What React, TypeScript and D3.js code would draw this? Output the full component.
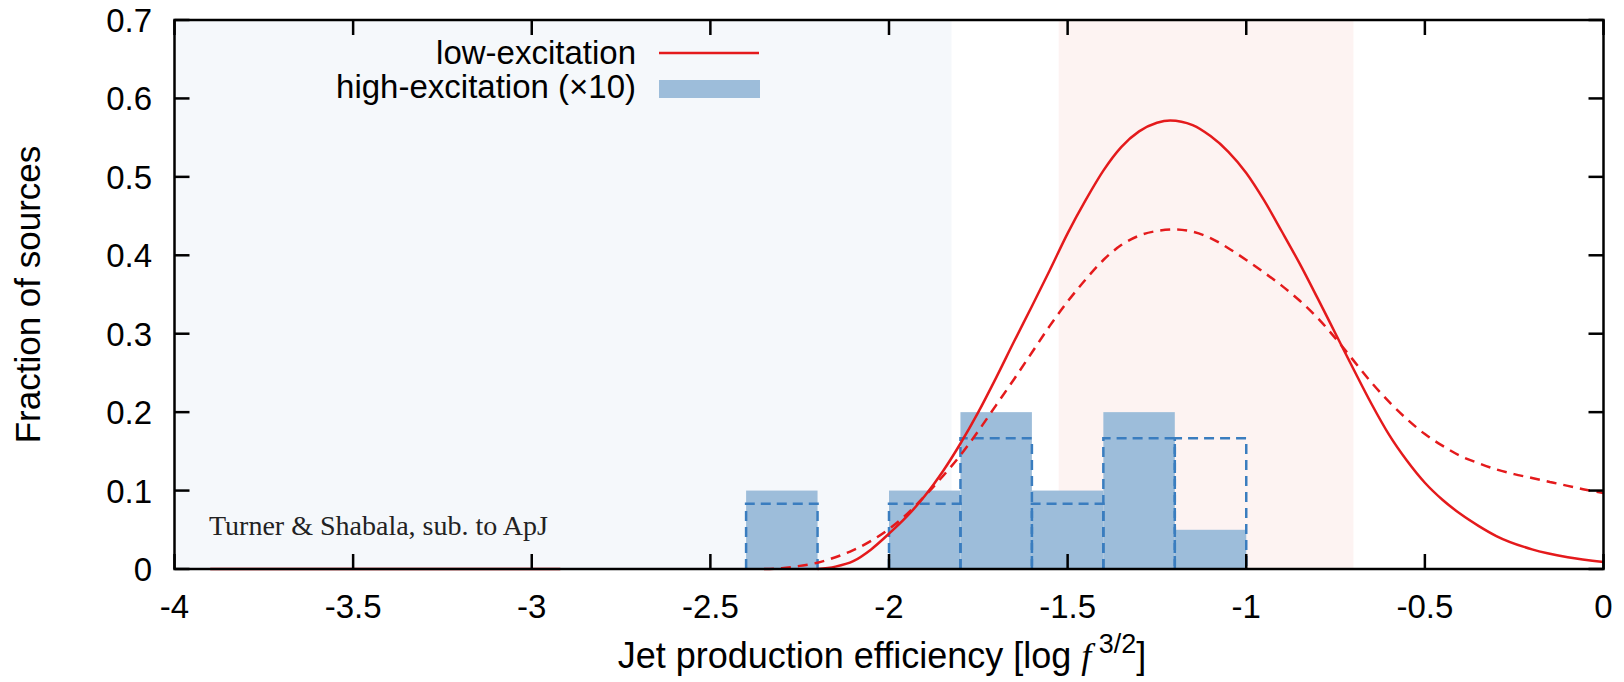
import React from "react";
import * as d3 from "d3";

const W = 1624;
const H = 682;
const M = { left: 174.5, right: 1603.5, top: 20, bottom: 569 };

const xTicks = [-4, -3.5, -3, -2.5, -2, -1.5, -1, -0.5, 0];
const yTicks = [0, 0.1, 0.2, 0.3, 0.4, 0.5, 0.6, 0.7];

// shaded regions
const blueRegion = [-4, -1.825];
const pinkRegion = [-1.525, -0.7];

// histogram (high-excitation x10)
const binEdges = [-2.4, -2.2, -2.0, -1.8, -1.6, -1.4, -1.2, -1.0];
const histSolid = [0.1, 0, 0.1, 0.2, 0.1, 0.2, 0.05];
const histDashed = [0.0833, 0, 0.0833, 0.1667, 0.0833, 0.1667, 0.1667];

// low-excitation curves
const lowX = [-2.2, -2.15, -2.1, -2.05, -2.0, -1.95, -1.9, -1.85, -1.8, -1.75, -1.7, -1.65, -1.6, -1.55, -1.5, -1.45, -1.4, -1.35, -1.3, -1.25, -1.213, -1.15, -1.1, -1.05, -1.0, -0.95, -0.9, -0.85, -0.8, -0.75, -0.7, -0.65, -0.6, -0.55, -0.5, -0.45, -0.4, -0.35, -0.3, -0.2, -0.1, 0];
const lowY = [0, 0.003, 0.01, 0.025, 0.045, 0.067, 0.093, 0.124, 0.16, 0.2, 0.244, 0.29, 0.335, 0.381, 0.428, 0.47, 0.508, 0.538, 0.558, 0.569, 0.572, 0.566, 0.552, 0.532, 0.505, 0.47, 0.43, 0.389, 0.345, 0.3, 0.255, 0.211, 0.171, 0.138, 0.11, 0.088, 0.07, 0.055, 0.042, 0.025, 0.015, 0.009];
const lowDashX = [-2.35, -2.3, -2.25, -2.2, -2.15, -2.1, -2.05, -2.0, -1.95, -1.9, -1.85, -1.8, -1.75, -1.7, -1.65, -1.6, -1.55, -1.5, -1.45, -1.4, -1.35, -1.3, -1.25, -1.2, -1.15, -1.1, -1.05, -1.0, -0.95, -0.9, -0.85, -0.8, -0.75, -0.7, -0.65, -0.6, -0.55, -0.5, -0.45, -0.4, -0.35, -0.3, -0.25, -0.2, -0.15, -0.1, -0.05, 0];
const lowDashY = [0, 0.001, 0.004, 0.008, 0.015, 0.024, 0.036, 0.051, 0.07, 0.093, 0.118, 0.145, 0.176, 0.209, 0.242, 0.276, 0.31, 0.341, 0.369, 0.394, 0.413, 0.425, 0.431, 0.433, 0.43, 0.422, 0.409, 0.394, 0.378, 0.361, 0.342, 0.32, 0.294, 0.266, 0.238, 0.213, 0.191, 0.172, 0.157, 0.144, 0.135, 0.127, 0.121, 0.116, 0.111, 0.106, 0.101, 0.097];
const tailX = [-3.9, -2.92];
const tailY = [0, 0];

const RED = "#e41a1c";
const BLUE_FILL = "#9dbdda";
const BLUE_LINE = "#3a7dbf";
const SANS = "'Liberation Sans', Arial, Helvetica, sans-serif";
const SERIF = "'Liberation Serif', 'Times New Roman', serif";

export default function App() {
  const x = d3.scaleLinear().domain([-4, 0]).range([M.left, M.right]);
  const y = d3.scaleLinear().domain([0, 0.7]).range([M.bottom, M.top]);
  const line = d3
    .line<[number, number]>()
    .x((d) => x(d[0]))
    .y((d) => y(d[1]))
    .curve(d3.curveMonotoneX);
  const zip = (a: number[], b: number[]) => a.map((v, i) => [v, b[i]] as [number, number]);
  const tick = 15;

  return (
    <svg width={W} height={H} style={{ position: "absolute", left: 0, top: 0 }} fontFamily={SANS}>
      <rect x={0} y={0} width={W} height={H} fill="#fff" />
      <rect x={x(blueRegion[0])} y={M.top} width={x(blueRegion[1]) - x(blueRegion[0])} height={M.bottom - M.top} fill="#f5f8fb" />
      <rect x={x(pinkRegion[0])} y={M.top} width={x(pinkRegion[1]) - x(pinkRegion[0])} height={M.bottom - M.top} fill="#fdf3f2" />

      {histSolid.map((v, i) =>
        v > 0 ? (
          <rect key={"hs" + i} x={x(binEdges[i])} y={y(v)} width={x(binEdges[i + 1]) - x(binEdges[i])} height={y(0) - y(v)} fill={BLUE_FILL} />
        ) : null
      )}
      {histDashed.map((v, i) =>
        v > 0 ? (
          <path
            key={"hd" + i}
            d={`M${x(binEdges[i])},${y(0)}V${y(v)}H${x(binEdges[i + 1])}V${y(0)}`}
            fill="none"
            stroke={BLUE_LINE}
            strokeWidth={2.5}
            strokeDasharray="10,6"
          />
        ) : null
      )}

      <path d={line(zip(tailX, tailY)) || ""} fill="none" stroke={RED} strokeWidth={2.5} />
      <path d={line(zip(lowDashX, lowDashY)) || ""} fill="none" stroke={RED} strokeWidth={2.5} strokeDasharray="10,7" />
      <path d={line(zip(lowX, lowY)) || ""} fill="none" stroke={RED} strokeWidth={2.5} />

      {/* frame */}
      <rect x={M.left} y={M.top} width={M.right - M.left} height={M.bottom - M.top} fill="none" stroke="#000" strokeWidth={2.5} />
      {xTicks.map((t) => (
        <g key={"xt" + t}>
          <line x1={x(t)} x2={x(t)} y1={M.bottom} y2={M.bottom - tick} stroke="#000" strokeWidth={2.5} />
          <line x1={x(t)} x2={x(t)} y1={M.top} y2={M.top + tick} stroke="#000" strokeWidth={2.5} />
          <text x={x(t)} y={618} textAnchor="middle" fontSize={33} fill="#000">
            {String(t)}
          </text>
        </g>
      ))}
      {yTicks.map((t) => (
        <g key={"yt" + t}>
          <line x1={M.left} x2={M.left + tick} y1={y(t)} y2={y(t)} stroke="#000" strokeWidth={2.5} />
          <line x1={M.right} x2={M.right - tick} y1={y(t)} y2={y(t)} stroke="#000" strokeWidth={2.5} />
          <text x={152} y={y(t) + 12} textAnchor="end" fontSize={33} fill="#000">
            {String(t)}
          </text>
        </g>
      ))}

      <text x={882} y={668} textAnchor="middle" fontSize={36} fill="#000">
        Jet production efficiency [log{" "}
        <tspan fontFamily={SERIF} fontStyle="italic">f</tspan>
        <tspan fontSize={27} dy={-15}> 3/2</tspan>
        <tspan dy={15}>]</tspan>
      </text>
      <text transform={`translate(40,${(M.top + M.bottom) / 2}) rotate(-90)`} textAnchor="middle" fontSize={35} fill="#000">
        Fraction of sources
      </text>

      {/* legend */}
      <text x={636} y={64} textAnchor="end" fontSize={33} fill="#000">low-excitation</text>
      <line x1={659} x2={759} y1={53} y2={53} stroke={RED} strokeWidth={2.5} />
      <text x={636} y={98} textAnchor="end" fontSize={33} fill="#000">high-excitation (×10)</text>
      <rect x={659} y={80} width={101} height={18} fill={BLUE_FILL} />

      <text x={209} y={535} fontSize={28} fill="#222" fontFamily={SERIF}>
        Turner &amp; Shabala, sub. to ApJ
      </text>
    </svg>
  );
}
